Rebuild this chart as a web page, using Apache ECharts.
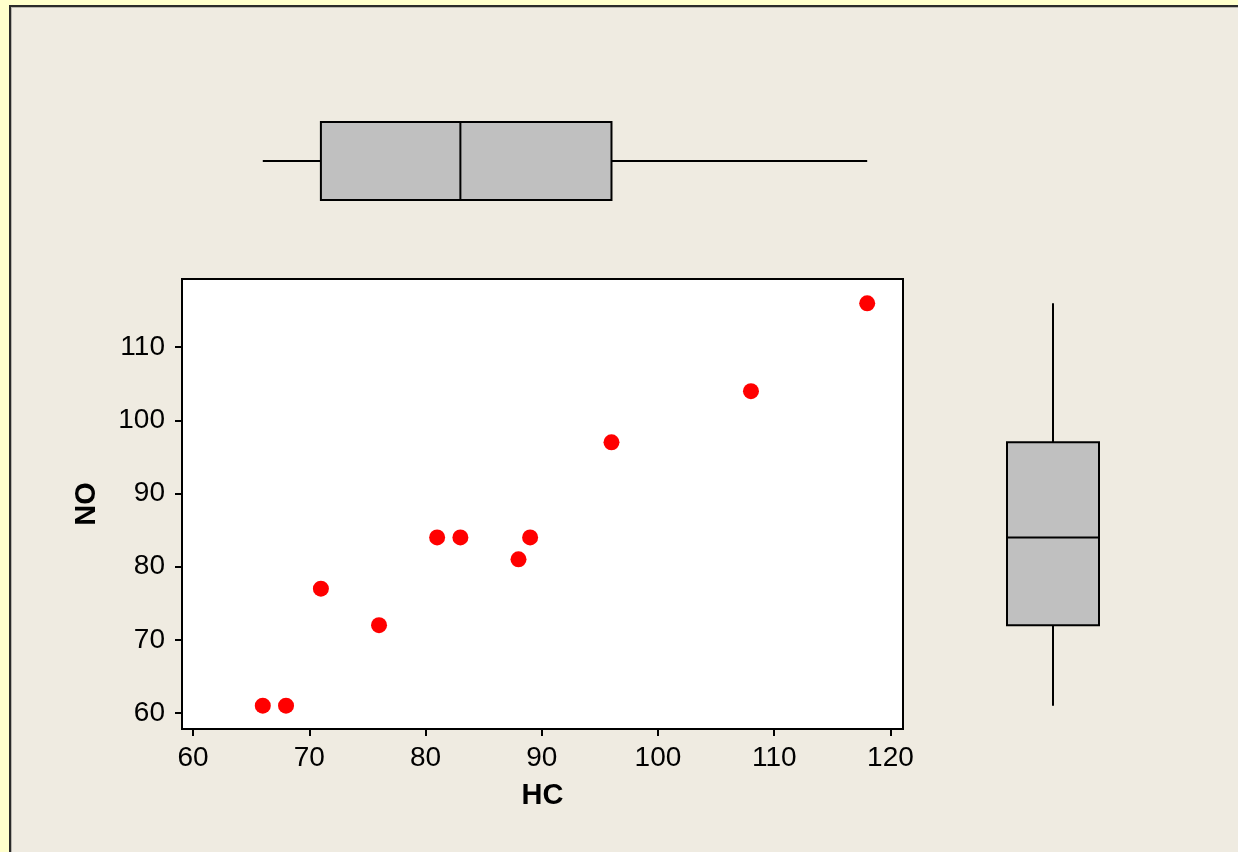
<!DOCTYPE html>
<html>
<head>
<meta charset="utf-8">
<script src="https://cdn.jsdelivr.net/npm/echarts@6/dist/echarts.min.js"></script>
<style>
html,body{margin:0;padding:0;background:#FFFFCC;width:1238px;height:852px;overflow:hidden;}
#frame{position:absolute;left:9px;top:5px;right:0;bottom:0;background:#EFEBE1;border-left:2px solid #2a2a2a;border-top:2px solid #2a2a2a;box-shadow:inset 1px 1px 0 #b8b5ad;}
#chart{position:absolute;left:0;top:0;width:1238px;height:852px;}
</style>
</head>
<body>
<div id="frame"></div>
<div id="chart"></div>
<script>
// ---- data ----
const hc = [66, 68, 71, 76, 81, 83, 88, 89, 96, 108, 118];
const no = [61, 61, 77, 72, 84, 84, 81, 84, 97, 104, 116];
const xTicks = [60, 70, 80, 90, 100, 110, 120];
const yTicks = [60, 70, 80, 90, 100, 110];
const xName = 'HC';
const yName = 'NO';

// Minitab-style quartiles: position p*(n+1)
function quantile(arr, p) {
  const s = arr.slice().sort((a, b) => a - b);
  const n = s.length;
  let pos = p * (n + 1);
  if (pos <= 1) return s[0];
  if (pos >= n) return s[n - 1];
  const lo = Math.floor(pos), f = pos - lo;
  return s[lo - 1] + f * (s[lo] - s[lo - 1]);
}
function fiveNum(arr) {
  return [Math.min(...arr), quantile(arr, 0.25), quantile(arr, 0.5), quantile(arr, 0.75), Math.max(...arr)];
}
const hcBox = fiveNum(hc);
const noBox = fiveNum(no);

const X_MIN = 59.05, X_MAX = 121.08, Y_MIN = 57.81, Y_MAX = 119.33;
const FONT = 'Liberation Sans';

const boxStyle = { fill: '#C0C0C0', stroke: '#000', lineWidth: 2 };
const lineStyle = { stroke: '#000', lineWidth: 2 };

function renderHBox(params, api) {
  const v = [0,1,2,3,4].map(i => api.coord([api.value(i), 0.5]));
  const yc = v[0][1], h = 39;
  return { type: 'group', children: [
    { type: 'line', shape: { x1: v[0][0], y1: yc, x2: v[1][0], y2: yc }, style: lineStyle },
    { type: 'line', shape: { x1: v[3][0], y1: yc, x2: v[4][0], y2: yc }, style: lineStyle },
    { type: 'rect', shape: { x: v[1][0], y: yc - h, width: v[3][0] - v[1][0], height: 2 * h }, style: boxStyle },
    { type: 'line', shape: { x1: v[2][0], y1: yc - h, x2: v[2][0], y2: yc + h }, style: lineStyle }
  ]};
}
function renderVBox(params, api) {
  const v = [0,1,2,3,4].map(i => api.coord([0.5, api.value(i)]));
  const xc = v[0][0], w = 46;
  return { type: 'group', children: [
    { type: 'line', shape: { x1: xc, y1: v[0][1], x2: xc, y2: v[1][1] }, style: lineStyle },
    { type: 'line', shape: { x1: xc, y1: v[3][1], x2: xc, y2: v[4][1] }, style: lineStyle },
    { type: 'rect', shape: { x: xc - w, y: v[3][1], width: 2 * w, height: v[1][1] - v[3][1] }, style: boxStyle },
    { type: 'line', shape: { x1: xc - w, y1: v[2][1], x2: xc + w, y2: v[2][1] }, style: lineStyle }
  ]};
}

const chart = echarts.init(document.getElementById('chart'), null, { renderer: 'canvas' });
const axisCommon = {
  axisLine: { show: true, onZero: false, lineStyle: { color: '#000', width: 2 } },
  axisTick: { show: true, length: 7, lineStyle: { color: '#000', width: 2 } },
  splitLine: { show: false }
};
chart.setOption({
  animation: false,
  textStyle: { fontFamily: FONT },
  grid: [
    { left: 182, top: 279, width: 721, height: 450, show: true, backgroundColor: '#FFFFFF', borderColor: '#000', borderWidth: 2 },
    { left: 182, top: 111, width: 721, height: 100 },
    { left: 1007, top: 279, width: 92, height: 450 }
  ],
  xAxis: [
    Object.assign({}, axisCommon, {
      gridIndex: 0, type: 'value', min: X_MIN, max: X_MAX,
      name: xName, nameLocation: 'middle', nameGap: 52,
      nameTextStyle: { fontFamily: FONT, fontSize: 29, fontWeight: 'bold', color: '#000' },
      axisTick: Object.assign({}, axisCommon.axisTick, { customValues: xTicks }),
      axisLabel: { customValues: xTicks, margin: 15, fontFamily: FONT, fontSize: 28, color: '#000' }
    }),
    { gridIndex: 1, type: 'value', min: X_MIN, max: X_MAX, show: false },
    { gridIndex: 2, type: 'value', min: 0, max: 1, show: false }
  ],
  yAxis: [
    Object.assign({}, axisCommon, {
      gridIndex: 0, type: 'value', min: Y_MIN, max: Y_MAX,
      name: yName, nameLocation: 'middle', nameGap: 81, nameRotate: 90,
      nameTextStyle: { fontFamily: FONT, fontSize: 29, fontWeight: 'bold', color: '#000' },
      axisTick: Object.assign({}, axisCommon.axisTick, { customValues: yTicks }),
      axisLabel: { customValues: yTicks, margin: 17, fontFamily: FONT, fontSize: 28, color: '#000' }
    }),
    { gridIndex: 1, type: 'value', min: 0, max: 1, show: false },
    { gridIndex: 2, type: 'value', min: Y_MIN, max: Y_MAX, show: false }
  ],
  series: [
    {
      type: 'scatter', xAxisIndex: 0, yAxisIndex: 0,
      data: hc.map((x, i) => [x, no[i]]),
      symbol: 'circle', symbolSize: 16,
      itemStyle: { color: '#FF0000', opacity: 1 }
    },
    {
      type: 'custom', xAxisIndex: 1, yAxisIndex: 1,
      data: [hcBox], encode: { x: [0,1,2,3,4] },
      renderItem: renderHBox, clip: false
    },
    {
      type: 'custom', xAxisIndex: 2, yAxisIndex: 2,
      data: [noBox], encode: { y: [0,1,2,3,4] },
      renderItem: renderVBox, clip: false
    }
  ]
});
</script>
</body>
</html>
